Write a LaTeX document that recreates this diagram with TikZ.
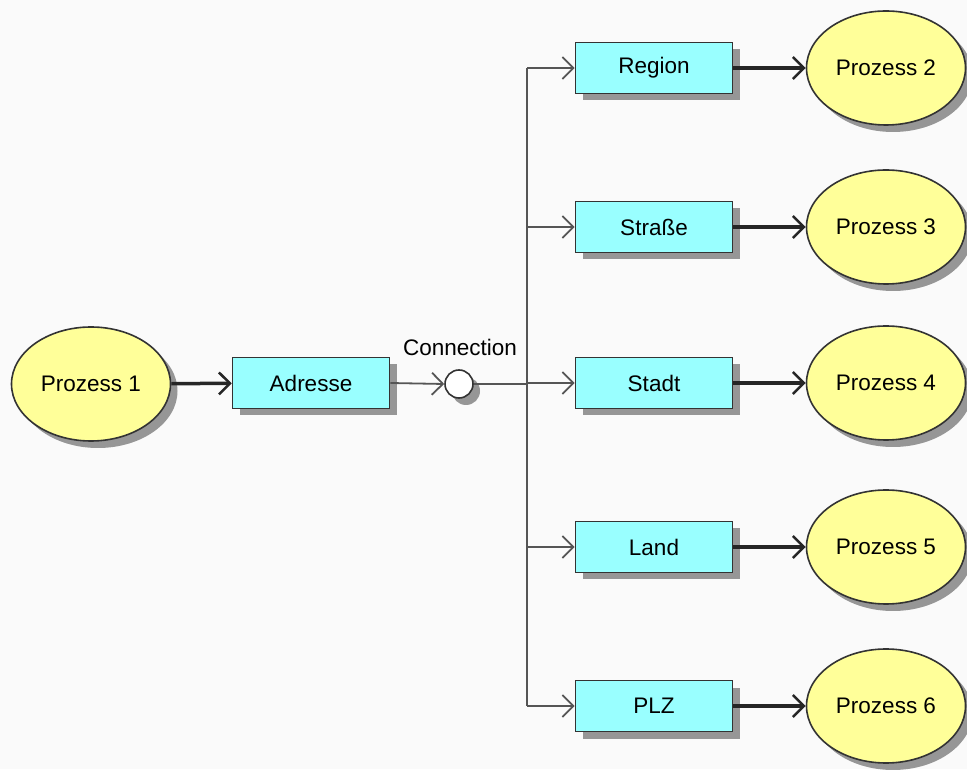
\documentclass[tikz,border=0pt]{standalone}
\usepackage{fontspec}
\setmainfont{Liberation Sans}
\usetikzlibrary{shapes.geometric,arrows.meta,shadows}
\definecolor{boxfill}{HTML}{99FFFF}
\definecolor{procfill}{HTML}{FFFF99}
\definecolor{edge}{HTML}{333333}
\definecolor{thinline}{HTML}{555555}
\definecolor{bg}{HTML}{FAFAFA}
\tikzset{
  shd/.style={drop shadow={shadow xshift=7pt,shadow yshift=-7pt,fill=black,opacity=0.4}},
  databox/.style={rectangle,draw=edge,line width=1.6pt,fill=boxfill,minimum width=157pt,minimum height=51pt,inner sep=0pt,shd,font=\fontsize{22.5}{26}\selectfont},
  proc/.style={ellipse,draw=edge,line width=1.6pt,fill=procfill,minimum width=159pt,minimum height=114pt,inner sep=0pt,shd,font=\fontsize{22.5}{26}\selectfont},
  conn/.style={circle,draw=edge,line width=1.6pt,fill=white,minimum size=28pt,inner sep=0pt,shd},
  thinarrow/.style={draw=thinline,line width=1.8pt,-{Straight Barb[length=11pt,width=22pt,line width=1.8pt]}},
  thickarrow/.style={draw=black!85,line width=3.5pt,-{Straight Barb[length=11pt,width=22pt,line width=2.5pt]}},
  thinline/.style={draw=thinline,line width=1.8pt}
}
\begin{document}
\begin{tikzpicture}[x=1pt,y=1pt]
\fill[bg] (0,0) rectangle (967,769);
\useasboundingbox (0,0) rectangle (967,769);
\node[proc] (p1) at (91,385) {Prozess 1};
\node[databox] (adr) at (311,386) {Adresse};
\node[conn] (c) at (459,385) {};
\node[font=\fontsize{22.5}{26}\selectfont] (cl) at (460,422) {Connection};
\coordinate (j) at (527,385);
\node[databox] (b1) at (654,701) {Region};
\node[databox] (b2) at (654,542) {Straße};
\node[databox] (b3) at (654,386) {Stadt};
\node[databox] (b4) at (654,222) {Land};
\node[databox] (b5) at (654,63) {PLZ};
\node[proc] (q1) at (886,701) {Prozess 2};
\node[proc] (q2) at (886,542) {Prozess 3};
\node[proc] (q3) at (886,386) {Prozess 4};
\node[proc] (q4) at (886,222) {Prozess 5};
\node[proc] (q5) at (886,63) {Prozess 6};
\draw[thickarrow] (p1) -- (adr);
\draw[thinarrow] (adr.east) -- (c.west);
\draw[thinline] (c.east) -- (j);
\draw[thinline] (j |- b1.west) -- (j |- b5.west);
\foreach \b/\q in {b1/q1,b2/q2,b3/q3,b4/q4,b5/q5}{
  \draw[thinarrow] (j |- \b.west) -- (\b.west);
  \draw[thickarrow] (\b.east) -- (\q.west);
}
\end{tikzpicture}
\end{document}
